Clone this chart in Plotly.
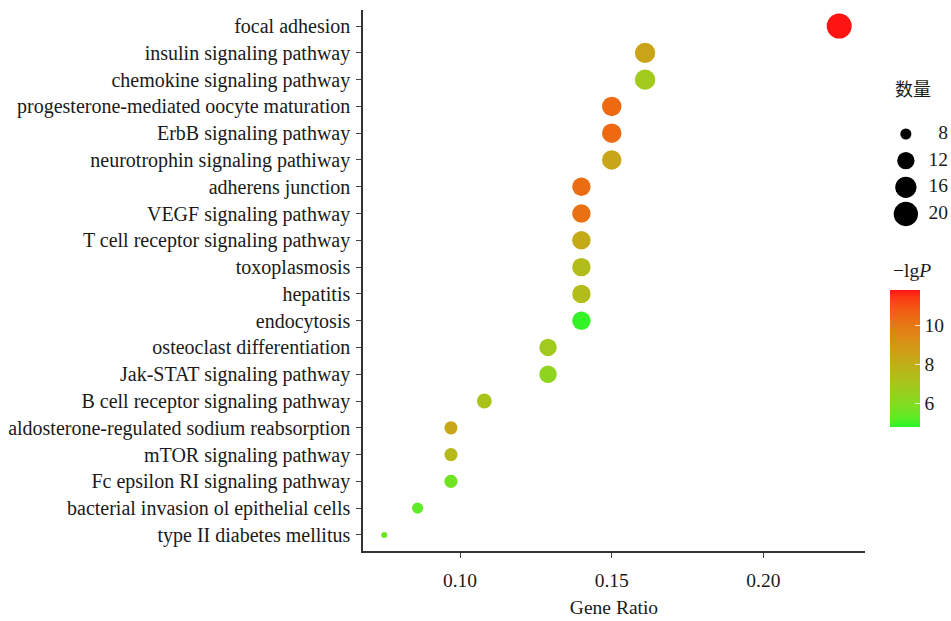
import numpy as np
import plotly.graph_objects as go

# ---------------- data ----------------
pathways = [
    "focal adhesion",
    "insulin signaling pathway",
    "chemokine signaling pathway",
    "progesterone-mediated oocyte maturation",
    "ErbB signaling pathway",
    "neurotrophin signaling pathiway",
    "adherens junction",
    "VEGF signaling pathway",
    "T cell receptor signaling pathway",
    "toxoplasmosis",
    "hepatitis",
    "endocytosis",
    "osteoclast differentiation",
    "Jak-STAT signaling pathway",
    "B cell receptor signaling pathway",
    "aldosterone-regulated sodium reabsorption",
    "mTOR signaling pathway",
    "Fc epsilon RI signaling pathway",
    "bacterial invasion ol epithelial cells",
    "type II diabetes mellitus",
]
gene_ratio = [0.225, 0.161, 0.161, 0.150, 0.150, 0.150, 0.140, 0.140, 0.140, 0.140,
              0.140, 0.140, 0.129, 0.129, 0.108, 0.097, 0.097, 0.097, 0.086, 0.075]
count = [21, 15, 15, 14, 14, 14, 13, 13, 13, 13, 13, 13, 12, 12, 10, 9, 9, 9, 8, 7]
neg_lg_p = [11.8, 8.4, 6.8, 10.4, 10.4, 8.3, 10.3, 10.2, 8.2, 7.4,
            7.4, 4.9, 6.8, 6.3, 7.1, 8.3, 7.6, 5.6, 5.3, 5.6]
size_legend = [8, 12, 16, 20]
x_ticks = [0.10, 0.15, 0.20]
cbar_ticks = [6, 8, 10]

# ---------------- helpers ----------------
def srgb_to_lab(rgb):
    c = np.array(rgb, float) / 255.0
    c = np.where(c <= 0.04045, c / 12.92, ((c + 0.055) / 1.055) ** 2.4)
    M = np.array([[0.4124, 0.3576, 0.1805], [0.2126, 0.7152, 0.0722], [0.0193, 0.1192, 0.9505]])
    xyz = M @ c / np.array([0.95047, 1.0, 1.08883])
    f = np.where(xyz > 0.008856, np.cbrt(xyz), 7.787 * xyz + 16 / 116)
    return np.array([116 * f[1] - 16, 500 * (f[0] - f[1]), 200 * (f[1] - f[2])])

def lab_to_srgb(lab):
    L, a, b = lab
    fy = (L + 16) / 116
    fx = fy + a / 500
    fz = fy - b / 200
    f = np.array([fx, fy, fz])
    xyz = np.where(f ** 3 > 0.008856, f ** 3, (f - 16 / 116) / 7.787) * np.array([0.95047, 1.0, 1.08883])
    Minv = np.array([[3.2406, -1.5372, -0.4986], [-0.9689, 1.8758, 0.0415], [0.0557, -0.2040, 1.0570]])
    c = Minv @ xyz
    c = np.clip(c, 0, 1)
    c = np.where(c <= 0.0031308, 12.92 * c, 1.055 * c ** (1 / 2.4) - 0.055)
    return tuple(int(round(v * 255)) for v in np.clip(c, 0, 1))

low_lab = srgb_to_lab((40, 245, 40))
high_lab = srgb_to_lab((255, 20, 20))
colorscale = []
for t in np.linspace(0, 1, 21):
    r, g, b = lab_to_srgb(low_lab + (high_lab - low_lab) * t)
    colorscale.append([float(t), f"rgb({r},{g},{b})"])

cmin, cmax = 4.8, 11.8
d_min, d_max = 6.0, 25.0
n_lo, n_hi = min(count), max(count)

def diam(n):
    return d_min + (d_max - d_min) * np.sqrt((np.asarray(n, float) - n_lo) / (n_hi - n_lo))

FONT = "Liberation Serif, Times New Roman, serif"
TXT = "#1a1a1a"

fig = go.Figure()
fig.add_trace(go.Scatter(
    x=gene_ratio, y=pathways, mode="markers",
    marker=dict(
        size=diam(count), sizemode="diameter",
        color=neg_lg_p, cmin=cmin, cmax=cmax, colorscale=colorscale,
        line=dict(width=0), opacity=1,
        colorbar=dict(
            x=(890 - 363) / 588, xanchor="left", xref="paper",
            y=(551 - 427) / 541, yanchor="bottom",
            len=137, lenmode="pixels", thickness=30,
            outlinewidth=0, tickvals=cbar_ticks,
            ticks="inside", ticklen=5, tickcolor="rgba(255,255,255,0.8)",
            tickfont=dict(family=FONT, size=19.5, color=TXT),
            xpad=0, ypad=0,
        ),
    ),
    showlegend=False, hoverinfo="x+y",
))

# size legend drawn on its own small axes
fig.add_trace(go.Scatter(
    x=[0.26] * len(size_legend), y=size_legend, mode="markers",
    marker=dict(size=diam(size_legend), sizemode="diameter", color="black",
                opacity=1, line=dict(width=0)),
    xaxis="x2", yaxis="y2", showlegend=False, hoverinfo="skip",
))
fig.add_trace(go.Scatter(
    x=[0.95] * len(size_legend), y=size_legend, mode="text",
    text=[str(v) for v in size_legend], textposition="middle left",
    textfont=dict(family=FONT, size=19.5, color=TXT),
    xaxis="x2", yaxis="y2", showlegend=False, hoverinfo="skip",
))

fig.update_layout(
    width=951, height=621,
    margin=dict(l=363, r=0, t=10, b=70),
    paper_bgcolor="white", plot_bgcolor="white",
    font=dict(family=FONT, size=19.5, color=TXT),
    xaxis=dict(
        domain=[0, (865 - 363) / 588], range=[0.068, 0.2335],
        tickvals=x_ticks, ticktext=[f"{v:.2f}" for v in x_ticks],
        showgrid=False, zeroline=False,
        showline=True, linecolor="#333333", linewidth=1.5,
        ticks="outside", ticklen=5, tickcolor="#444444", tickwidth=1,
        ticklabelstandoff=6,
        tickfont=dict(family=FONT, size=19.5, color=TXT),
        title=dict(text="Gene Ratio", font=dict(family=FONT, size=19.5, color=TXT), standoff=10),
    ),
    yaxis=dict(
        type="category", categoryorder="array", categoryarray=pathways,
        range=[len(pathways) - 0.4, -0.6],
        showgrid=False, zeroline=False,
        showline=True, linecolor="#333333", linewidth=1.5,
        ticks="outside", ticklen=5, tickcolor="#444444", tickwidth=1,
        ticklabelstandoff=2,
        tickfont=dict(family=FONT, size=20, color=TXT),
    ),
    xaxis2=dict(domain=[(890 - 363) / 588, 1.0], range=[0, 1], visible=False, anchor="y2", fixedrange=True),
    yaxis2=dict(domain=[(551 - 227.3) / 541, (551 - 120.7) / 541], range=[22, 6],
                visible=False, anchor="x2", fixedrange=True),
    annotations=[
        dict(text="数量", x=(913 - 363) / 588, y=(551 - 88) / 541, xref="paper", yref="paper",
             showarrow=False, xanchor="center", yanchor="middle",
             font=dict(family="Noto Sans CJK SC", size=18, color=TXT)),
        dict(text="−lg<i>P</i>", x=(912 - 363) / 588, y=(551 - 270) / 541, xref="paper", yref="paper",
             showarrow=False, xanchor="center", yanchor="middle",
             font=dict(family=FONT, size=19.5, color=TXT)),
    ],
)

fig.write_html("out.html", config={"displayModeBar": False},
               post_script="document.body.style.margin='0';document.body.style.overflow='hidden';")
